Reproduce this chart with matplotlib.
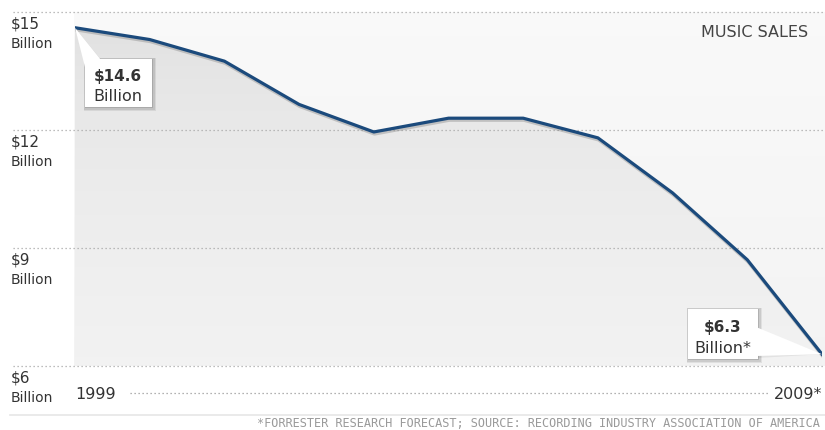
import matplotlib
matplotlib.use("Agg")
import matplotlib.pyplot as plt
import matplotlib.transforms as mtransforms
import matplotlib.patheffects as pe
from matplotlib.patches import Rectangle, Polygon, PathPatch
import numpy as np

# ---- data ----
years = [1999, 2000, 2001, 2002, 2003, 2004, 2005, 2006, 2007, 2008, 2009]
sales = [14.6, 14.3, 13.75, 12.65, 11.95, 12.3, 12.3, 11.8, 10.4, 8.7, 6.3]
yticks = [15, 12, 9, 6]
ytick_labels = ["$15", "$12", "$9", "$6"]
first_label = ["$14.6", "Billion"]
last_label = ["$6.3", "Billion*"]
title = "MUSIC SALES"
x_start_label = "1999"
x_end_label = "2009*"
footnote = "*FORRESTER RESEARCH FORECAST; SOURCE: RECORDING INDUSTRY ASSOCIATION OF AMERICA"

W, H = 825, 431
fig = plt.figure(figsize=(W / 100, H / 100), dpi=100)
fig.patch.set_facecolor("white")
ax = fig.add_axes([75 / W, 1 - 367 / H, (822 - 75) / W, (367 - 13) / H])
ax.set_xlim(years[0], years[-1])
ax.set_ylim(6, 15)
ax.axis("off")

# pixel transform (origin top-left, image pixels)
pix = mtransforms.Affine2D().scale(1 / W, -1 / H).translate(0, 1) + fig.transFigure


def to_img(x, y):
    d = ax.transData.transform((x, y))
    d = fig.transFigure.inverted().transform(d)
    return d[0] * W, (1 - d[1]) * H


font = "DejaVu Sans"
TXT = "#333333"

# background panel gradient
grad = np.linspace(0, 1, 256).reshape(-1, 1)
bg_top, bg_bot = np.array([0.978, 0.978, 0.978]), np.array([0.955, 0.955, 0.955])
bg = bg_top + (bg_bot - bg_top) * grad[..., None]
bg = np.repeat(bg, 2, axis=1)
panel_ax = fig.add_axes([74 / W, 1 - 367 / H, (W - 74) / W, (367 - 13) / H], zorder=-1)
panel_ax.imshow(bg, aspect="auto", extent=(0, 1, 0, 1), interpolation="bilinear")
panel_ax.axis("off")

# filled area with gradient
fill = ax.fill_between(years, sales, 6, facecolor="none", edgecolor="none")
clip = PathPatch(fill.get_paths()[0], transform=ax.transData, facecolor="none", edgecolor="none")
ax.add_patch(clip)
g2 = np.sqrt(grad)
f_top, f_bot = np.array([0.865, 0.865, 0.865]), np.array([0.95, 0.95, 0.95])
fg = f_top + (f_bot - f_top) * g2[..., None]
fg = np.repeat(fg, 2, axis=1)
im = ax.imshow(fg, aspect="auto", extent=(years[0], years[-1], 6, 15),
               interpolation="bilinear", zorder=1)
im.set_clip_path(clip)
ax.set_xlim(years[0], years[-1])
ax.set_ylim(6, 15)

# gridlines
blend = mtransforms.blended_transform_factory(ax.transAxes, ax.transData)
x0_ax = (13 - 75) / 747
x1_ax = (825 - 75) / 747
for v in yticks:
    ax.plot([x0_ax, x1_ax], [v, v], transform=blend, clip_on=False,
            color="#a8a8a8", lw=0.9, ls=(0, (1, 2.2)), zorder=2)

# y labels
blend_fy = mtransforms.blended_transform_factory(fig.transFigure, ax.transData)
for v, lab in zip(yticks, ytick_labels):
    ax.annotate(lab, xy=(11 / W, v), xycoords=blend_fy, xytext=(0, -15.5),
                textcoords="offset pixels", ha="left", va="baseline",
                fontsize=11, family=font, color=TXT)
    ax.annotate("Billion", xy=(11 / W, v), xycoords=blend_fy, xytext=(0, -35),
                textcoords="offset pixels", ha="left", va="baseline",
                fontsize=10, family=font, color=TXT)

# line
ax.plot(years, sales, color="#1b4a7c", lw=2.3, zorder=4, solid_joinstyle="round",
        path_effects=[pe.SimpleLineShadow(offset=(0.5, -1.5), shadow_color="#777777", alpha=0.35),
                      pe.Normal()])

# title
fig.text(808 / W, 1 - 37 / H, title, ha="right", va="baseline", fontsize=11.5,
         family=font, color="#444444")


def callout(box, base, tip, lines, centers):
    x0, y0, x1, y1 = box
    for off, a in [(3, 0.07), (2, 0.09), (1, 0.12)]:
        fig.add_artist(Rectangle((x0 - off * 0.3, y0 - off * 0.3), x1 - x0 + off * 1.6,
                                 y1 - y0 + off * 1.6, transform=pix,
                                 facecolor="#000000", alpha=a, edgecolor="none", zorder=5))
    fig.add_artist(Polygon([tip, (base[0][0] + 2, base[0][1] + 2),
                            (base[1][0] + 2, base[1][1] + 2)], closed=True,
                           transform=pix, facecolor="#000000", alpha=0.06,
                           edgecolor="none", zorder=5))
    fig.add_artist(Polygon([tip, base[0], base[1]], closed=True, transform=pix,
                           facecolor="white", edgecolor="none", zorder=6))
    fig.add_artist(Rectangle((x0, y0), x1 - x0, y1 - y0, transform=pix,
                             facecolor="white", edgecolor="none", zorder=6))
    fig.text(centers[0][0] / W, 1 - centers[0][1] / H, lines[0], ha="center",
             va="baseline", fontsize=11, fontweight="bold",
             family=font, color="#333333", zorder=7)
    fig.text(centers[1][0] / W, 1 - centers[1][1] / H, lines[1], ha="center",
             va="baseline", fontsize=11.5, family=font, color="#333333", zorder=7)


tip1 = to_img(years[0], sales[0])
callout((85, 60, 152, 108), [(86, 72), (101, 61)], tip1, first_label,
        [(118, 81), (118, 101)])
tip2 = to_img(years[-1], sales[-1])
callout((688, 310, 758, 360), [(756, 328), (756, 357)], tip2, last_label,
        [(723, 332), (723, 353)])

# bottom row
ax.annotate(x_start_label, xy=(years[0], 6), xycoords="data", xytext=(0, -32),
            textcoords="offset pixels", ha="left", va="baseline", fontsize=11.5,
            family=font, color=TXT)
ax.annotate(x_end_label, xy=(years[-1], 6), xycoords="data", xytext=(0, -32),
            textcoords="offset pixels", ha="right", va="baseline", fontsize=11.5,
            family=font, color=TXT)
fig.add_artist(plt.Line2D([130, 770], [394, 394], transform=pix, color="#999999",
                          lw=0.9, ls=(0, (1, 2.2))))

# footnote separator & text
fig.add_artist(plt.Line2D([10, 825], [416.5, 416.5], transform=pix, color="#e6e6e6", lw=1.2))
fig.text(820 / W, 1 - 427 / H, footnote, ha="right", va="baseline", fontsize=8.6,
         family="DejaVu Sans Mono", color="#9a9a9a")

fig.savefig("out.png", dpi=100)
